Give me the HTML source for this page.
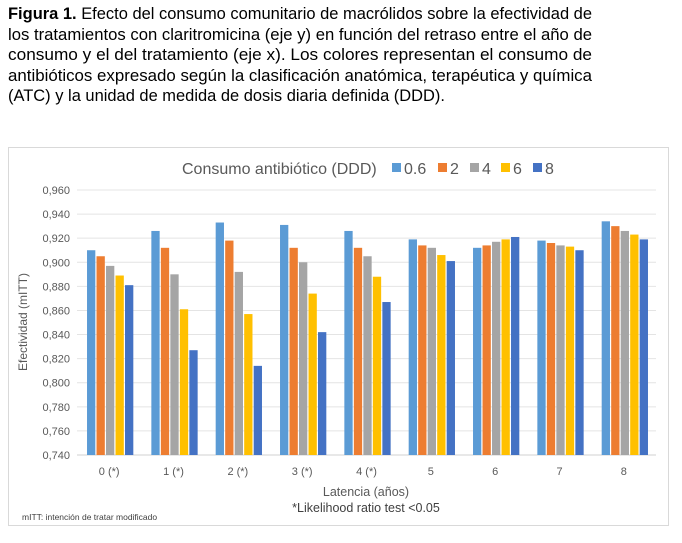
<!DOCTYPE html>
<html><head><meta charset="utf-8"><style>
html,body{margin:0;padding:0;background:#fff;}
svg{display:block;}
</style></head><body>
<svg id="c" width="682" height="543" xmlns="http://www.w3.org/2000/svg" font-family="Liberation Sans, sans-serif">
<g font-size="16.5" fill="#000">
<text x="8" y="19" textLength="584" lengthAdjust="spacingAndGlyphs"><tspan font-weight="bold">Figura 1.</tspan> Efecto del consumo comunitario de macrólidos sobre la efectividad de</text>
<text x="8" y="40" textLength="584" lengthAdjust="spacingAndGlyphs">los tratamientos con claritromicina (eje y) en función del retraso entre el año de</text>
<text x="8" y="60" textLength="584" lengthAdjust="spacingAndGlyphs">consumo y el del tratamiento (eje x). Los colores representan el consumo de</text>
<text x="8" y="81" textLength="584" lengthAdjust="spacingAndGlyphs">antibióticos expresado según la clasificación anatómica, terapéutica y química</text>
<text x="8" y="101" textLength="437" lengthAdjust="spacingAndGlyphs">(ATC) y la unidad de medida de dosis diaria definida (DDD).</text>
</g>
<rect x="8.5" y="147.5" width="660" height="378" fill="#fff" stroke="#d9d9d9"/>
<g id="grid"></g>
<g id="bars"></g>
<g id="labels"></g>
<text transform="translate(27,322) rotate(-90)" text-anchor="middle" font-size="12" fill="#595959">Efectividad (mITT)</text>
<text x="366" y="496" text-anchor="middle" font-size="12.5" fill="#595959">Latencia (años)</text>
<text x="366" y="512" text-anchor="middle" font-size="12.5" fill="#404040">*Likelihood ratio test &lt;0.05</text>
<text x="22" y="520" font-size="8.5" fill="#404040">mITT: intención de tratar modificado</text>
<g id="legend"></g>
</svg>
<script>
const categories=["0 (*)","1 (*)","2 (*)","3 (*)","4 (*)","5","6","7","8"];
const seriesNames=["0.6","2","4","6","8"];
const s06=[0.910,0.926,0.933,0.931,0.926,0.919,0.912,0.918,0.934];
const s2=[0.905,0.912,0.918,0.912,0.912,0.914,0.914,0.916,0.930];
const s4=[0.897,0.890,0.892,0.900,0.905,0.912,0.917,0.914,0.926];
const s6=[0.889,0.861,0.857,0.874,0.888,0.906,0.919,0.913,0.923];
const s8=[0.881,0.827,0.814,0.842,0.867,0.901,0.921,0.910,0.919];
const yTicks=[0.74,0.76,0.78,0.80,0.82,0.84,0.86,0.88,0.90,0.92,0.94,0.96];
const colors=["#5b9bd5","#ed7d31","#a5a5a5","#ffc000","#4472c4"];
const series=[s06,s2,s4,s6,s8];
const NS="http://www.w3.org/2000/svg";
const x0=77,x1=656,yBase=455,yTop=190,ymin=0.74,ymax=0.96;
const y=v=>yBase-(v-ymin)/(ymax-ymin)*(yBase-yTop);
const gw=(x1-x0)/categories.length;
const cx=i=>x0+gw*(i+0.5);
function mk(t,a,p){const e=document.createElementNS(NS,t);for(const k in a)e.setAttribute(k,a[k]);p.appendChild(e);return e;}
const G=document.getElementById('grid'),B=document.getElementById('bars'),L=document.getElementById('labels'),LG=document.getElementById('legend');
yTicks.forEach(t=>{
 const ln=mk('line',{x1:x0,x2:x1,y1:y(t),y2:y(t),stroke:t===ymin?'#d0d0d0':'#e4e4e4','stroke-width':1},G);
 
 
 const tx=mk('text',{x:70,y:y(t)+4,'text-anchor':'end','font-size':11,fill:'#595959'},L);
 tx.textContent=t.toFixed(3).replace('.',',');
 
 
});
const bw=8.3,step=9.5;
categories.forEach((c,i)=>{
 series.forEach((s,j)=>{
  const bx=cx(i)+1-2.5*step+j*step+0.6;
  const r=mk('rect',{x:bx,y:y(s[i]),width:bw,height:yBase-y(s[i]),fill:colors[j]},B);
  
  
 });
 const tx=mk('text',{x:cx(i),y:475,'text-anchor':'middle','font-size':11,fill:'#595959'},L);
 tx.textContent=c;
 
 
});
const lt=mk('text',{x:182,y:174,'font-size':16,fill:'#595959'},LG);
lt.textContent='Consumo antibiótico (DDD)';


const lx=[392,438,470,501,533];
seriesNames.forEach((n,j)=>{
 const g=mk('g',{},LG);
 
 
 mk('rect',{x:lx[j],y:163,width:9,height:9,fill:colors[j]},g);
 const t=mk('text',{x:lx[j]+12,y:174,'font-size':16,fill:'#595959'},g);
 t.textContent=n;
});
</script>
</body></html>
